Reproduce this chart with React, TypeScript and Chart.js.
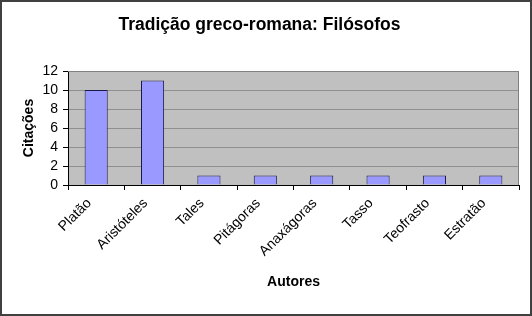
import React, { useEffect, useRef } from "react";
import { Chart, registerables } from "chart.js";

Chart.register(...registerables);

const categories = ["Platão", "Aristóteles", "Tales", "Pitágoras", "Anaxágoras", "Tasso", "Teofrasto", "Estratão"];
const citations = [10, 11, 1, 1, 1, 1, 1, 1];
const yTicks = [0, 2, 4, 6, 8, 10, 12];

const FONT = "Arial, 'Liberation Sans', sans-serif";

const plotBg = {
  id: "plotBg",
  beforeDraw(chart: any) {
    const { ctx, chartArea } = chart;
    ctx.save();
    ctx.fillStyle = "#ffffff";
    ctx.fillRect(0, 0, chart.width, chart.height);
    ctx.fillStyle = "#c0c0c0";
    ctx.fillRect(chartArea.left, chartArea.top, chartArea.right - chartArea.left, chartArea.bottom - chartArea.top);
    ctx.restore();
  },
  afterDraw(chart: any) {
    const { ctx, chartArea } = chart;
    const xs = chart.scales.x;
    ctx.save();
    ctx.strokeStyle = "#808080";
    ctx.lineWidth = 1;
    ctx.beginPath();
    ctx.moveTo(chartArea.left, chartArea.top + 0.5);
    ctx.lineTo(chartArea.right - 0.5, chartArea.top + 0.5);
    ctx.lineTo(chartArea.right - 0.5, chartArea.bottom);
    ctx.stroke();
    // rotated category labels, anchored like the spreadsheet original
    ctx.fillStyle = "#000";
    ctx.font = `14px ${FONT}`;
    ctx.textAlign = "right";
    ctx.textBaseline = "middle";
    categories.forEach((label, i) => {
      const x = xs.getPixelForTick(i) - 7;
      const y = xs.top + 16;
      ctx.save();
      ctx.translate(x, y);
      ctx.rotate(-Math.PI / 4);
      ctx.fillText(label, 0, 0);
      ctx.restore();
    });
    ctx.strokeStyle = "#404040";
    ctx.lineWidth = 2;
    ctx.strokeRect(1, 1, chart.width - 2, chart.height - 2);
    ctx.restore();
  },
};

export default function App() {
  const ref = useRef<HTMLCanvasElement>(null);
  useEffect(() => {
    const chart = new Chart(ref.current!, {
      type: "bar",
      data: {
        labels: categories,
        datasets: [
          {
            data: citations,
            backgroundColor: "#9999ff",
            borderColor: "#1a1a4a",
            borderWidth: 1,
            categoryPercentage: 1,
            barPercentage: 0.41,
          },
        ],
      },
      options: {
        animation: false,
        responsive: false,
        maintainAspectRatio: false,
        layout: { padding: { left: 0, right: 13, top: 0, bottom: 0 } },
        plugins: {
          legend: { display: false },
          tooltip: { enabled: false },
          title: {
            display: true,
            text: "Tradição greco-romana: Filósofos",
            color: "#000",
            font: { family: FONT, size: 17.5, weight: "bold" },
            padding: { top: 15, bottom: 35 },
          },
        },
        scales: {
          x: {
            offset: true,
            grid: { display: true, drawOnChartArea: false, offset: true, tickLength: 5, tickColor: "#000", color: "#000" },
            border: { display: true, color: "#000", width: 1 },
            ticks: { display: false, autoSkip: false },
            title: {
              display: true,
              text: "Autores",
              color: "#000",
              font: { family: FONT, size: 14, weight: "bold" },
              padding: { top: 0, bottom: 25.6 },
            },
            afterFit(scale: any) {
              scale.height = 131;
            },
          },
          y: {
            min: 0,
            max: 12,
            afterBuildTicks(scale: any) {
              scale.ticks = yTicks.map((v) => ({ value: v }));
            },
            grid: { color: "#909090", tickLength: 5, tickColor: "#000" },
            border: { display: true, color: "#000", width: 1 },
            ticks: {
              color: "#000",
              font: { family: FONT, size: 14 },
              padding: 5,
              autoSkip: false,
            },
            title: {
              display: true,
              text: "Citações",
              color: "#000",
              font: { family: FONT, size: 14, weight: "bold" },
              padding: { top: 21, bottom: 0 },
            },
            afterFit(scale: any) {
              scale.width = 68;
            },
          },
        },
      },
      plugins: [plotBg],
    });
    return () => chart.destroy();
  }, []);
  return (
    <div style={{ position: "absolute", left: 0, top: 0, width: 532, height: 316 }}>
      <canvas ref={ref} width={532} height={316} style={{ width: 532, height: 316, display: "block" }} />
    </div>
  );
}
